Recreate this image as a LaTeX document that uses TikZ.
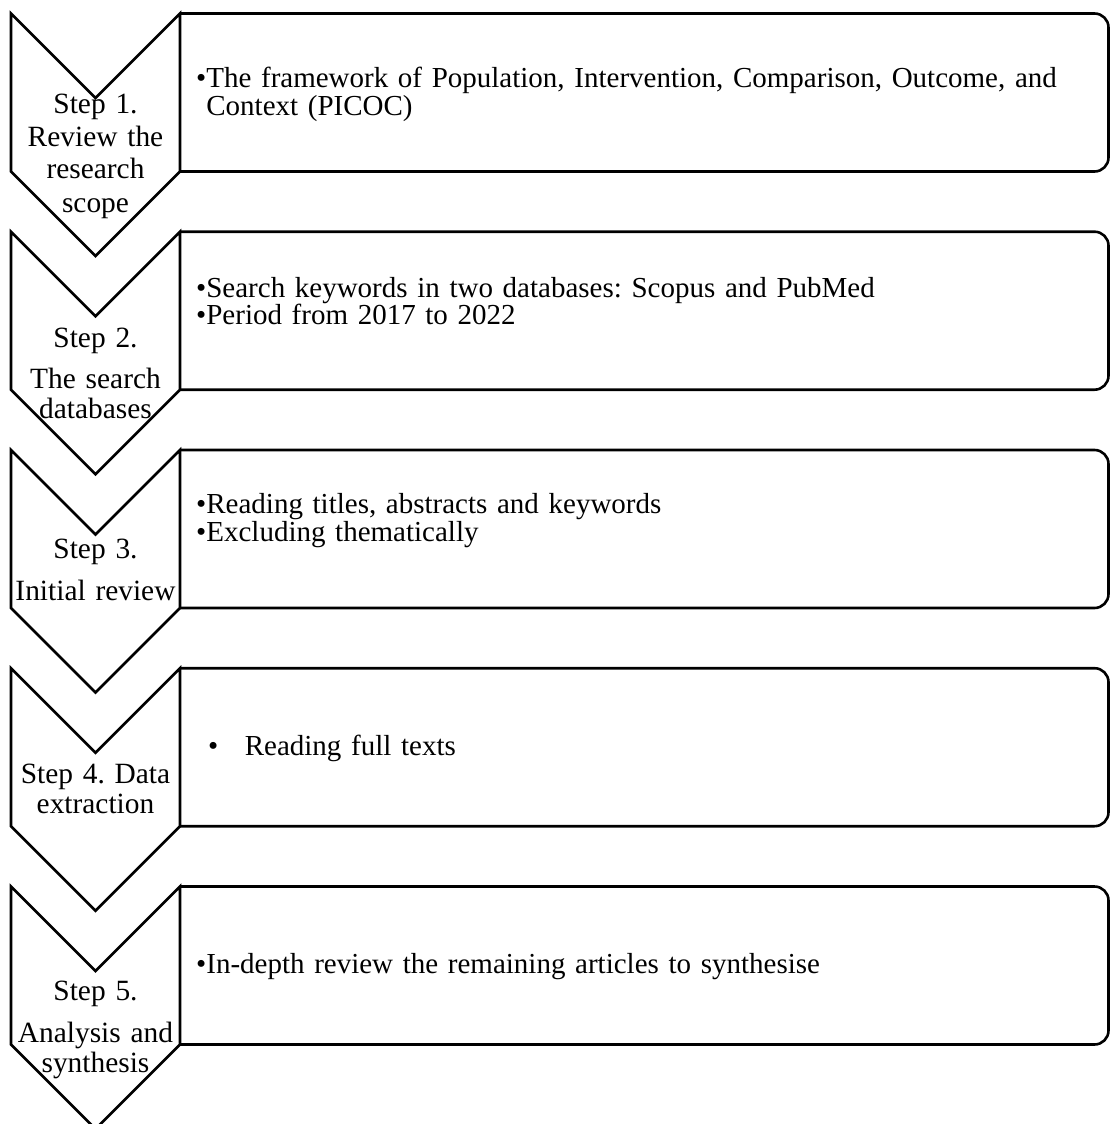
\documentclass[tikz,border=0pt]{standalone}
\usepackage{fontspec}
\setmainfont{Liberation Serif}
\frenchspacing
\tikzset{
  chev/.style={draw=black, line width=2.6pt, line join=miter},
  stepbox/.style={draw=black, line width=2.6pt, rounded corners=14pt},
  lbl/.style={anchor=base, text width=172pt, align=center, inner sep=0pt, font=\fontsize{29.4}{30}\selectfont\frenchspacing},
  itm/.style={anchor=base west, text width=890pt, align=left, inner sep=0pt, font=\fontsize{29}{27.3}\selectfont\frenchspacing},
}
\begin{document}
\begin{tikzpicture}[x=1pt,y=-1pt]
\useasboundingbox (0,0) rectangle (1110,1124);
\foreach \t in {13.5,231.7,450,668.2,886.5}{
  \draw[stepbox] (180,\t) -- (1108.5,\t) -- (1108.5,\t+158) -- (180,\t+158);
  \draw[chev] (11,\t) -- (95.5,\t+84.5) -- (180,\t) -- (180,\t+158) -- (95.5,\t+242.5) -- (11,\t+158) -- cycle;
}
\node[lbl] (s1) at (95.5,113) {Step 1.\\[3pt]Review the\\[3pt]research\\[3pt]scope};
\node[lbl] (s2) at (95.5,347) {Step 2.\\[11pt]The search\\databases};
\node[lbl] (s3) at (95.5,558) {Step 3.\\[12pt]Initial review};
\node[lbl] (s4) at (95.5,783) {Step 4. Data\\extraction};
\node[lbl] (s5) at (95.5,1000) {Step 5.\\[12pt]Analysis and\\synthesis};
\node[itm] (b1) at (196,88) {•The framework of Population, Intervention, Comparison, Outcome, and\\\phantom{•}Context (PICOC)};
\node[itm] (b2) at (196,297) {•Search keywords in two databases: Scopus and PubMed\\•Period from 2017 to 2022};
\node[itm] (b3) at (196,513) {•Reading titles, abstracts and keywords\\[0.7pt]•Excluding thematically};
\node[itm] (b4) at (208,755) {•\hspace*{26.5pt}Reading full texts};
\node[itm] (b5) at (196,973) {•In-depth review the remaining articles to synthesise};
\end{tikzpicture}
\end{document}
